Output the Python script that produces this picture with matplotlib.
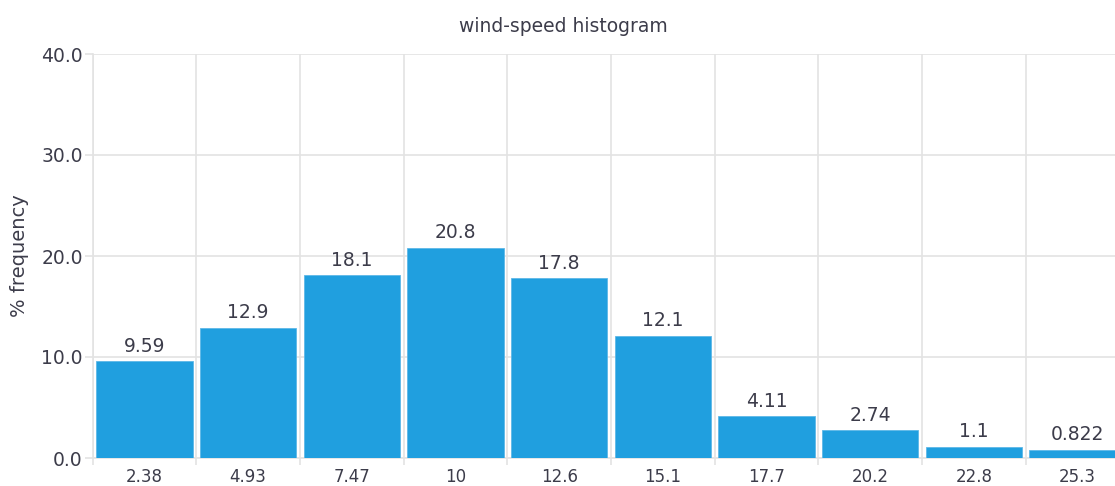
import matplotlib
matplotlib.use('Agg')
import matplotlib.pyplot as plt
import numpy as np

# bin centres (m/s) and % frequency per bin
bin_centers = ['2.38', '4.93', '7.47', '10', '12.6', '15.1', '17.7', '20.2', '22.8', '25.3']
freq = [9.59, 12.9, 18.1, 20.8, 17.8, 12.1, 4.11, 2.74, 1.1, 0.822]
y_ticks = [0.0, 10.0, 20.0, 30.0, 40.0]

bar_color = '#209FDF'
grid_color = '#E3E3E3'
text_color = '#3C3C4A'

fig = plt.figure(figsize=(11.15, 4.86), dpi=100)
W, H = 1115.0, 486.0
ax = fig.add_axes([92.5 / W, 28 / H, (W - 92.5) / W, 404 / H])

n = len(freq)
x = np.arange(n) + 0.5
bars = ax.bar(x, freq, width=0.93, color=bar_color, edgecolor='#5DB8E8',
              linewidth=0.6, zorder=3)

for xi, v in zip(x, freq):
    ax.annotate('%.3g' % v, (xi, v), xytext=(0, 4), textcoords='offset points',
                ha='center', va='bottom', fontsize=13.5, color=text_color)

# grid lines on bin edges, labels on bin centres
ax.set_xticks(np.arange(n + 1))
ax.set_xticklabels([])
ax.set_xticks(x, minor=True)
ax.set_xticklabels(bin_centers, minor=True)
ax.tick_params(axis='x', which='major', length=5, color=grid_color, width=1.2)
ax.tick_params(axis='x', which='minor', length=0, pad=7, labelsize=12, labelcolor=text_color)

ax.set_yticks(y_ticks)
ax.set_yticklabels(['%.1f' % t for t in y_ticks])
ax.tick_params(axis='y', length=6, color=grid_color, width=1.2, labelsize=13.5,
               labelcolor=text_color, pad=1)

ax.set_xlim(0, (W - 92.5) / 103.7)
ax.set_ylim(0, 40)

ax.grid(True, which='major', color=grid_color, linewidth=1.2, zorder=0)
for s in ['top', 'right']:
    ax.spines[s].set_visible(False)
for s in ['left', 'bottom']:
    ax.spines[s].set_color(grid_color)
    ax.spines[s].set_linewidth(1.2)

ax.set_ylabel('% frequency', fontsize=14, color=text_color, va='center')
ax.yaxis.set_label_coords((20 - 92.5) / (W - 92.5), 0.5)
fig.text(563 / W, 1 - 26 / H, 'wind-speed histogram', ha='center', va='center',
         fontsize=13.5, color=text_color)

fig.savefig('out.png', dpi=100)
